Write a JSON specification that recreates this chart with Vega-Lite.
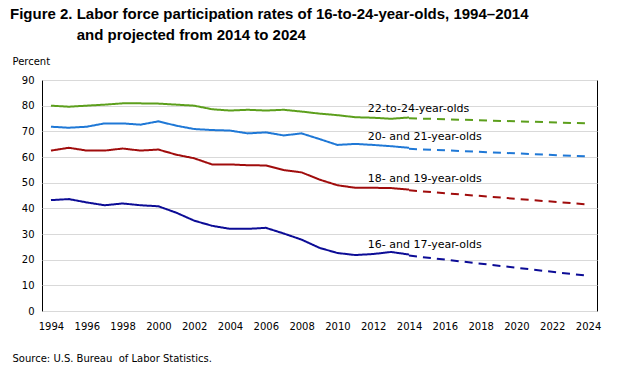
{
  "$schema": "https://vega.github.io/schema/vega-lite/v6.json",
  "width": 555,
  "height": 231,
  "autosize": {"type": "none"},
  "padding": {"left": 42, "top": 80, "right": 28, "bottom": 65},
  "background": "white",
  "title": {
    "text": ["Figure 2. Labor force participation rates of 16-to-24-year-olds, 1994–2014", "\u200b\u00a0\u00a0\u00a0\u00a0\u00a0\u00a0\u00a0\u00a0\u00a0\u00a0\u00a0\u00a0\u00a0\u00a0\u00a0\u00a0and projected from 2014 to 2024"],
    "anchor": "start",
    "frame": "group",
    "dx": -32,
    "font": "Liberation Sans",
    "fontSize": 15,
    "fontWeight": "bold",
    "color": "black",
    "lineHeight": 21,
    "offset": 13
  },
  "config": {
    "view": {"stroke": "black", "strokeWidth": 1},
    "font": "DejaVu Sans",
    "axis": {
      "domain": false,
      "ticks": false,
      "labelOverlap": false,
      "labelFont": "DejaVu Sans",
      "labelFontSize": 10,
      "labelColor": "black",
      "titleFont": "DejaVu Sans",
      "titleFontSize": 10,
      "titleFontWeight": "normal",
      "titleColor": "black",
      "gridColor": "#d9d9d9",
      "gridWidth": 1
    }
  },
  "datasets": {
    "series": [
      {"year": 1994, "value": 80.0, "group": "22-to-24", "type": "actual"},
      {"year": 1995, "value": 79.6, "group": "22-to-24", "type": "actual"},
      {"year": 1996, "value": 80.0, "group": "22-to-24", "type": "actual"},
      {"year": 1997, "value": 80.4, "group": "22-to-24", "type": "actual"},
      {"year": 1998, "value": 80.9, "group": "22-to-24", "type": "actual"},
      {"year": 1999, "value": 80.9, "group": "22-to-24", "type": "actual"},
      {"year": 2000, "value": 80.8, "group": "22-to-24", "type": "actual"},
      {"year": 2001, "value": 80.4, "group": "22-to-24", "type": "actual"},
      {"year": 2002, "value": 80.0, "group": "22-to-24", "type": "actual"},
      {"year": 2003, "value": 78.6, "group": "22-to-24", "type": "actual"},
      {"year": 2004, "value": 78.1, "group": "22-to-24", "type": "actual"},
      {"year": 2005, "value": 78.4, "group": "22-to-24", "type": "actual"},
      {"year": 2006, "value": 78.1, "group": "22-to-24", "type": "actual"},
      {"year": 2007, "value": 78.4, "group": "22-to-24", "type": "actual"},
      {"year": 2008, "value": 77.7, "group": "22-to-24", "type": "actual"},
      {"year": 2009, "value": 76.9, "group": "22-to-24", "type": "actual"},
      {"year": 2010, "value": 76.3, "group": "22-to-24", "type": "actual"},
      {"year": 2011, "value": 75.5, "group": "22-to-24", "type": "actual"},
      {"year": 2012, "value": 75.3, "group": "22-to-24", "type": "actual"},
      {"year": 2013, "value": 74.9, "group": "22-to-24", "type": "actual"},
      {"year": 2014, "value": 75.4, "group": "22-to-24", "type": "actual"},
      {"year": 2014, "value": 75.1, "group": "22-to-24", "type": "projected"},
      {"year": 2024, "value": 73.1, "group": "22-to-24", "type": "projected"},

      {"year": 1994, "value": 71.8, "group": "20-21", "type": "actual"},
      {"year": 1995, "value": 71.4, "group": "20-21", "type": "actual"},
      {"year": 1996, "value": 71.8, "group": "20-21", "type": "actual"},
      {"year": 1997, "value": 73.1, "group": "20-21", "type": "actual"},
      {"year": 1998, "value": 73.1, "group": "20-21", "type": "actual"},
      {"year": 1999, "value": 72.6, "group": "20-21", "type": "actual"},
      {"year": 2000, "value": 73.9, "group": "20-21", "type": "actual"},
      {"year": 2001, "value": 72.2, "group": "20-21", "type": "actual"},
      {"year": 2002, "value": 70.9, "group": "20-21", "type": "actual"},
      {"year": 2003, "value": 70.5, "group": "20-21", "type": "actual"},
      {"year": 2004, "value": 70.3, "group": "20-21", "type": "actual"},
      {"year": 2005, "value": 69.2, "group": "20-21", "type": "actual"},
      {"year": 2006, "value": 69.6, "group": "20-21", "type": "actual"},
      {"year": 2007, "value": 68.4, "group": "20-21", "type": "actual"},
      {"year": 2008, "value": 69.2, "group": "20-21", "type": "actual"},
      {"year": 2009, "value": 67.0, "group": "20-21", "type": "actual"},
      {"year": 2010, "value": 64.7, "group": "20-21", "type": "actual"},
      {"year": 2011, "value": 65.1, "group": "20-21", "type": "actual"},
      {"year": 2012, "value": 64.7, "group": "20-21", "type": "actual"},
      {"year": 2013, "value": 64.2, "group": "20-21", "type": "actual"},
      {"year": 2014, "value": 63.6, "group": "20-21", "type": "actual"},
      {"year": 2014, "value": 63.2, "group": "20-21", "type": "projected"},
      {"year": 2024, "value": 60.2, "group": "20-21", "type": "projected"},

      {"year": 1994, "value": 62.5, "group": "18-19", "type": "actual"},
      {"year": 1995, "value": 63.6, "group": "18-19", "type": "actual"},
      {"year": 1996, "value": 62.5, "group": "18-19", "type": "actual"},
      {"year": 1997, "value": 62.5, "group": "18-19", "type": "actual"},
      {"year": 1998, "value": 63.3, "group": "18-19", "type": "actual"},
      {"year": 1999, "value": 62.5, "group": "18-19", "type": "actual"},
      {"year": 2000, "value": 62.9, "group": "18-19", "type": "actual"},
      {"year": 2001, "value": 60.9, "group": "18-19", "type": "actual"},
      {"year": 2002, "value": 59.5, "group": "18-19", "type": "actual"},
      {"year": 2003, "value": 57.1, "group": "18-19", "type": "actual"},
      {"year": 2004, "value": 57.1, "group": "18-19", "type": "actual"},
      {"year": 2005, "value": 56.8, "group": "18-19", "type": "actual"},
      {"year": 2006, "value": 56.7, "group": "18-19", "type": "actual"},
      {"year": 2007, "value": 54.9, "group": "18-19", "type": "actual"},
      {"year": 2008, "value": 54.0, "group": "18-19", "type": "actual"},
      {"year": 2009, "value": 51.2, "group": "18-19", "type": "actual"},
      {"year": 2010, "value": 49.0, "group": "18-19", "type": "actual"},
      {"year": 2011, "value": 48.0, "group": "18-19", "type": "actual"},
      {"year": 2012, "value": 48.0, "group": "18-19", "type": "actual"},
      {"year": 2013, "value": 47.9, "group": "18-19", "type": "actual"},
      {"year": 2014, "value": 47.3, "group": "18-19", "type": "actual"},
      {"year": 2014, "value": 47.0, "group": "18-19", "type": "projected"},
      {"year": 2024, "value": 41.5, "group": "18-19", "type": "projected"},

      {"year": 1994, "value": 43.2, "group": "16-17", "type": "actual"},
      {"year": 1995, "value": 43.6, "group": "16-17", "type": "actual"},
      {"year": 1996, "value": 42.3, "group": "16-17", "type": "actual"},
      {"year": 1997, "value": 41.2, "group": "16-17", "type": "actual"},
      {"year": 1998, "value": 41.9, "group": "16-17", "type": "actual"},
      {"year": 1999, "value": 41.2, "group": "16-17", "type": "actual"},
      {"year": 2000, "value": 40.8, "group": "16-17", "type": "actual"},
      {"year": 2001, "value": 38.3, "group": "16-17", "type": "actual"},
      {"year": 2002, "value": 35.2, "group": "16-17", "type": "actual"},
      {"year": 2003, "value": 33.2, "group": "16-17", "type": "actual"},
      {"year": 2004, "value": 32.0, "group": "16-17", "type": "actual"},
      {"year": 2005, "value": 32.0, "group": "16-17", "type": "actual"},
      {"year": 2006, "value": 32.4, "group": "16-17", "type": "actual"},
      {"year": 2007, "value": 30.2, "group": "16-17", "type": "actual"},
      {"year": 2008, "value": 27.8, "group": "16-17", "type": "actual"},
      {"year": 2009, "value": 24.6, "group": "16-17", "type": "actual"},
      {"year": 2010, "value": 22.6, "group": "16-17", "type": "actual"},
      {"year": 2011, "value": 21.8, "group": "16-17", "type": "actual"},
      {"year": 2012, "value": 22.2, "group": "16-17", "type": "actual"},
      {"year": 2013, "value": 23.0, "group": "16-17", "type": "actual"},
      {"year": 2014, "value": 22.0, "group": "16-17", "type": "actual"},
      {"year": 2014, "value": 21.6, "group": "16-17", "type": "projected"},
      {"year": 2024, "value": 13.7, "group": "16-17", "type": "projected"}
    ],
    "labels": [
      {"year": 2011.7, "value": 78.7, "label": "22-to-24-year-olds"},
      {"year": 2011.7, "value": 67.8, "label": "20- and 21-year-olds"},
      {"year": 2011.7, "value": 51.4, "label": "18- and 19-year-olds"},
      {"year": 2011.7, "value": 25.7, "label": "16- and 17-year-olds"}
    ]
  },
  "encoding": {
    "x": {
      "field": "year",
      "type": "quantitative",
      "scale": {"domain": [1993.5, 2024.5], "nice": false, "zero": false},
      "axis": {
        "values": [1994, 1996, 1998, 2000, 2002, 2004, 2006, 2008, 2010, 2012, 2014, 2016, 2018, 2020, 2022, 2024],
        "format": "d",
        "grid": false,
        "labelPadding": 10,
        "title": "Source: U.S. Bureau\u00a0 of Labor Statistics.",
        "titleAnchor": "start",
        "titleAlign": "left",
        "titleBaseline": "middle",
        "titleX": -30,
        "titleY": 47
      }
    },
    "y": {
      "field": "value",
      "type": "quantitative",
      "scale": {"domain": [0, 90], "nice": false},
      "axis": {
        "values": [0, 10, 20, 30, 40, 50, 60, 70, 80, 90],
        "labelPadding": 8,
        "title": "Percent",
        "titleAngle": 0,
        "titleAlign": "left",
        "titleBaseline": "middle",
        "titleX": -30,
        "titleY": -19
      }
    }
  },
  "layer": [
    {
      "data": {"name": "series"},
      "mark": {"type": "line", "strokeWidth": 2},
      "encoding": {
        "color": {
          "field": "group",
          "type": "nominal",
          "scale": {"domain": ["22-to-24", "20-21", "18-19", "16-17"], "range": ["#5c9f1c", "#1f78d6", "#a00c0c", "#0c0c96"]},
          "legend": null
        },
        "strokeDash": {
          "field": "type",
          "type": "nominal",
          "scale": {"domain": ["actual", "projected"], "range": [[1, 0], [8, 6]]},
          "legend": null
        },
        "detail": {"field": "type"}
      }
    },
    {
      "data": {"name": "labels"},
      "mark": {"type": "text", "align": "left", "baseline": "middle", "font": "DejaVu Sans", "fontSize": 11, "color": "black"},
      "encoding": {
        "text": {"field": "label"}
      }
    }
  ]
}
